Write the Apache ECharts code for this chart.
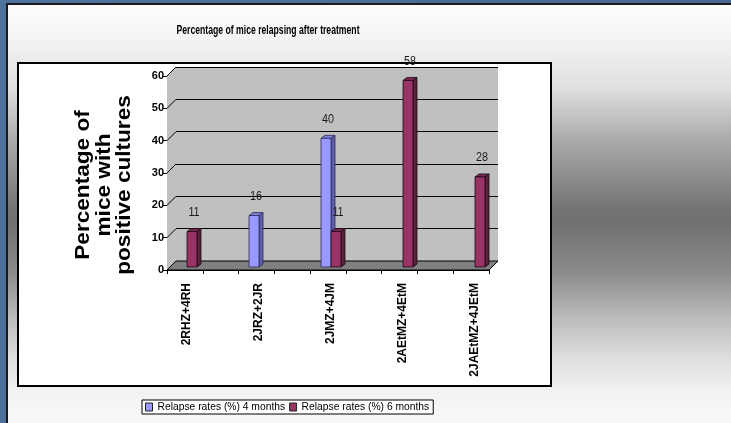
<!DOCTYPE html>
<html>
<head>
<meta charset="utf-8">
<script src="https://cdn.jsdelivr.net/npm/echarts@6/dist/echarts.min.js"></script>
<style>
  html, body { margin: 0; padding: 0; }
  #chart { width: 731px; height: 423px; }
</style>
</head>
<body>
<div id="chart"></div>
<script>
// Relapse data per treatment regimen
const categories = ['2RHZ+4RH', '2JRZ+2JR', '2JMZ+4JM', '2AEtMZ+4EtM', '2JAEtMZ+4JEtM'];
const fourMonths = [null, 16, 40, null, null];
const sixMonths = [11, null, 11, 58, 28];
const seriesNames = ['Relapse rates (%) 4 months', 'Relapse rates (%) 6 months'];
const yTicks = [0, 10, 20, 30, 40, 50, 60];
const chartTitle = 'Percentage of mice relapsing after treatment';
const yTitle = 'Percentage of\nmice with\npositive cultures';

// 3D look: depth offset of the box and of each bar
const BOX_DX = 9, BOX_DY = 9;
const BAR_W = 10, BAR_DX = 4, BAR_DY = 3;
const FRAME_STEPS = 9;

const FONT = "'Liberation Sans', Arial, sans-serif";

const palettes = [
  { front: '#9999ff', side: '#5f5fa8', top: '#8080dd', edge: '#2a2a55' },
  { front: '#993366', side: '#5c1f3d', top: '#7a2952', edge: '#1a0a12' }
];

function toPoints(values) {
  return values.map((v, i) => [i, v]).filter(d => d[1] !== null);
}

function makeBar(sideSign, pal) {
  return function (params, api) {
    const idx = api.value(0);
    const val = api.value(1);
    const p = api.coord([idx, val]);
    const b = api.coord([idx, 0]);
    const x0 = sideSign < 0 ? p[0] - BAR_W : p[0];
    const x1 = x0 + BAR_W;
    const yt = p[1], yb = b[1];
    const st = (fill) => ({ fill: fill, stroke: pal.edge, lineWidth: 0.8 });
    return {
      type: 'group',
      children: [
        { type: 'polygon', shape: { points: [[x1, yb], [x1, yt], [x1 + BAR_DX, yt - BAR_DY], [x1 + BAR_DX, yb - BAR_DY]] }, style: st(pal.side) },
        { type: 'polygon', shape: { points: [[x0, yt], [x1, yt], [x1 + BAR_DX, yt - BAR_DY], [x0 + BAR_DX, yt - BAR_DY]] }, style: st(pal.top) },
        { type: 'rect', shape: { x: x0, y: yt, width: BAR_W, height: yb - yt }, style: st(pal.front) },
        { type: 'text', x: (x0 + x1 + BAR_DX) / 2, y: yt - 19, scaleX: 0.9,
          style: { text: String(val), fill: '#1a1a1a', font: '12px ' + FONT, align: 'center', verticalAlign: 'middle' } }
      ]
    };
  };
}

// Side wall, floor and depth edges of the 3D box
function renderFrame(params, api) {
  const v = api.value(1);
  const a = api.coord([0, v]);
  const children = [];
  if (v === yTicks[0]) {
    const top = api.coord([0, yTicks[yTicks.length - 1]]);
    const r = api.coord([FRAME_STEPS, v]);
    children.push({ type: 'polygon', shape: { points: [a, top, [top[0] + BOX_DX, top[1] - BOX_DY], [a[0] + BOX_DX, a[1] - BOX_DY]] },
      style: { fill: '#c0c0c0', stroke: null } });
    children.push({ type: 'polygon', shape: { points: [a, r, [r[0] + BOX_DX, r[1] - BOX_DY], [a[0] + BOX_DX, a[1] - BOX_DY]] },
      style: { fill: '#808080', stroke: '#000', lineWidth: 1 } });
  }
  children.push({ type: 'line', shape: { x1: a[0], y1: a[1], x2: a[0] + BOX_DX, y2: a[1] - BOX_DY },
    style: { stroke: '#000', lineWidth: 1 } });
  return { type: 'group', children: children };
}

const chart = echarts.init(document.getElementById('chart'), null, { renderer: 'canvas' });

chart.setOption({
  animation: false,
  backgroundColor: new echarts.graphic.LinearGradient(0, 0, 1, 1, [
    { offset: 0, color: '#4f729c' }, { offset: 1, color: '#45648d' }
  ]),
  graphic: {
    elements: [
      { type: 'rect', z: -100, shape: { x: 7, y: 4, width: 730, height: 425 },
        style: {
          stroke: '#1a1a1a', lineWidth: 2,
          fill: new echarts.graphic.LinearGradient(0, 0, 0, 1, [
            { offset: 0, color: '#fdfdfd' },
            { offset: 0.085, color: '#f3f3f3' },
            { offset: 0.20, color: '#e0e0e0' },
            { offset: 0.32, color: '#aaaaaa' },
            { offset: 0.48, color: '#747474' },
            { offset: 0.52, color: '#717171' },
            { offset: 0.633, color: '#8c8c8c' },
            { offset: 0.75, color: '#c0c0c0' },
            { offset: 0.83, color: '#dedede' },
            { offset: 0.91, color: '#f2f2f2' },
            { offset: 1, color: '#fafafa' }
          ])
        } },
      { type: 'rect', z: -99, shape: { x: 18, y: 63, width: 533, height: 323 },
        style: { fill: '#ffffff', stroke: '#000', lineWidth: 2 } },
      // condensed bold chart title
      { type: 'text', z: 10, x: 268, y: 30, scaleX: 0.665,
        style: { text: chartTitle, font: 'bold 13px ' + FONT, fill: '#000',
          align: 'center', verticalAlign: 'middle' } },
      // value axis title, widened and turned upright
      { type: 'text', z: 10, x: 104, y: 185, rotation: Math.PI / 2, scaleX: 1.13,
        style: { text: yTitle, font: 'bold 20px ' + FONT, lineHeight: 20.5, fill: '#000',
          align: 'center', verticalAlign: 'middle' } }
    ]
  },
  legend: {
    data: seriesNames.map(n => ({ name: n, itemStyle: { borderColor: '#222', borderWidth: 1 } })),
    left: 142, top: 400, orient: 'horizontal',
    icon: 'rect', itemWidth: 7, itemHeight: 8, itemGap: 4,
    padding: [2, 4, 2, 3],
    backgroundColor: '#fff', borderColor: '#000', borderWidth: 1,
    textStyle: { fontFamily: FONT, fontSize: 10.3, color: '#000' },
    selectedMode: false
  },
  grid: [
    { left: 167, top: 76, width: 322, height: 194 },                    // front frame with axes
    { left: 176, top: 67, width: 322, height: 194, show: true,
      backgroundColor: '#c0c0c0', borderWidth: 0 },                     // back wall
    { left: 151, top: 74, width: 360, height: 193 }                     // bars
  ],
  xAxis: [
    { gridIndex: 0, type: 'value', min: 0, max: FRAME_STEPS, interval: 1,
      axisLine: { show: true, lineStyle: { color: '#000', width: 1 } },
      axisTick: { show: true, length: 4, lineStyle: { color: '#000' } },
      axisLabel: { show: false }, splitLine: { show: false } },
    { gridIndex: 1, type: 'category', data: categories, show: false },
    { gridIndex: 2, type: 'category', data: categories,
      axisLine: { show: false }, axisTick: { show: false },
      axisLabel: { rotate: 90, margin: 16, fontFamily: FONT, fontSize: 12, fontWeight: 'bold', color: '#000' } }
  ],
  yAxis: [
    { gridIndex: 0, type: 'value', min: 0, max: 60, interval: 10,
      axisLine: { show: true, lineStyle: { color: '#000', width: 1 } },
      axisTick: { show: true, length: 4, lineStyle: { color: '#000' } },
      axisLabel: { margin: 3, fontFamily: FONT, fontSize: 11, fontWeight: 'bold', color: '#000' },
      splitLine: { show: false } },
    { gridIndex: 1, type: 'value', min: 0, max: 60, interval: 10,
      axisLine: { show: false }, axisTick: { show: false }, axisLabel: { show: false },
      splitLine: { show: true, lineStyle: { color: '#000', width: 1 } } },
    { gridIndex: 2, type: 'value', min: 0, max: 60, interval: 10, show: false }
  ],
  series: [
    { type: 'custom', name: 'frame', xAxisIndex: 0, yAxisIndex: 0, z: 2,
      data: yTicks.map(v => [0, v]), encode: { x: 0, y: 1 },
      renderItem: renderFrame, silent: true },
    { type: 'custom', name: seriesNames[0], xAxisIndex: 2, yAxisIndex: 2, z: 3,
      data: toPoints(fourMonths), encode: { x: 0, y: 1 },
      itemStyle: { color: palettes[0].front },
      renderItem: makeBar(-1, palettes[0]) },
    { type: 'custom', name: seriesNames[1], xAxisIndex: 2, yAxisIndex: 2, z: 3,
      data: toPoints(sixMonths), encode: { x: 0, y: 1 },
      itemStyle: { color: palettes[1].front },
      renderItem: makeBar(1, palettes[1]) }
  ]
});
</script>
</body>
</html>
